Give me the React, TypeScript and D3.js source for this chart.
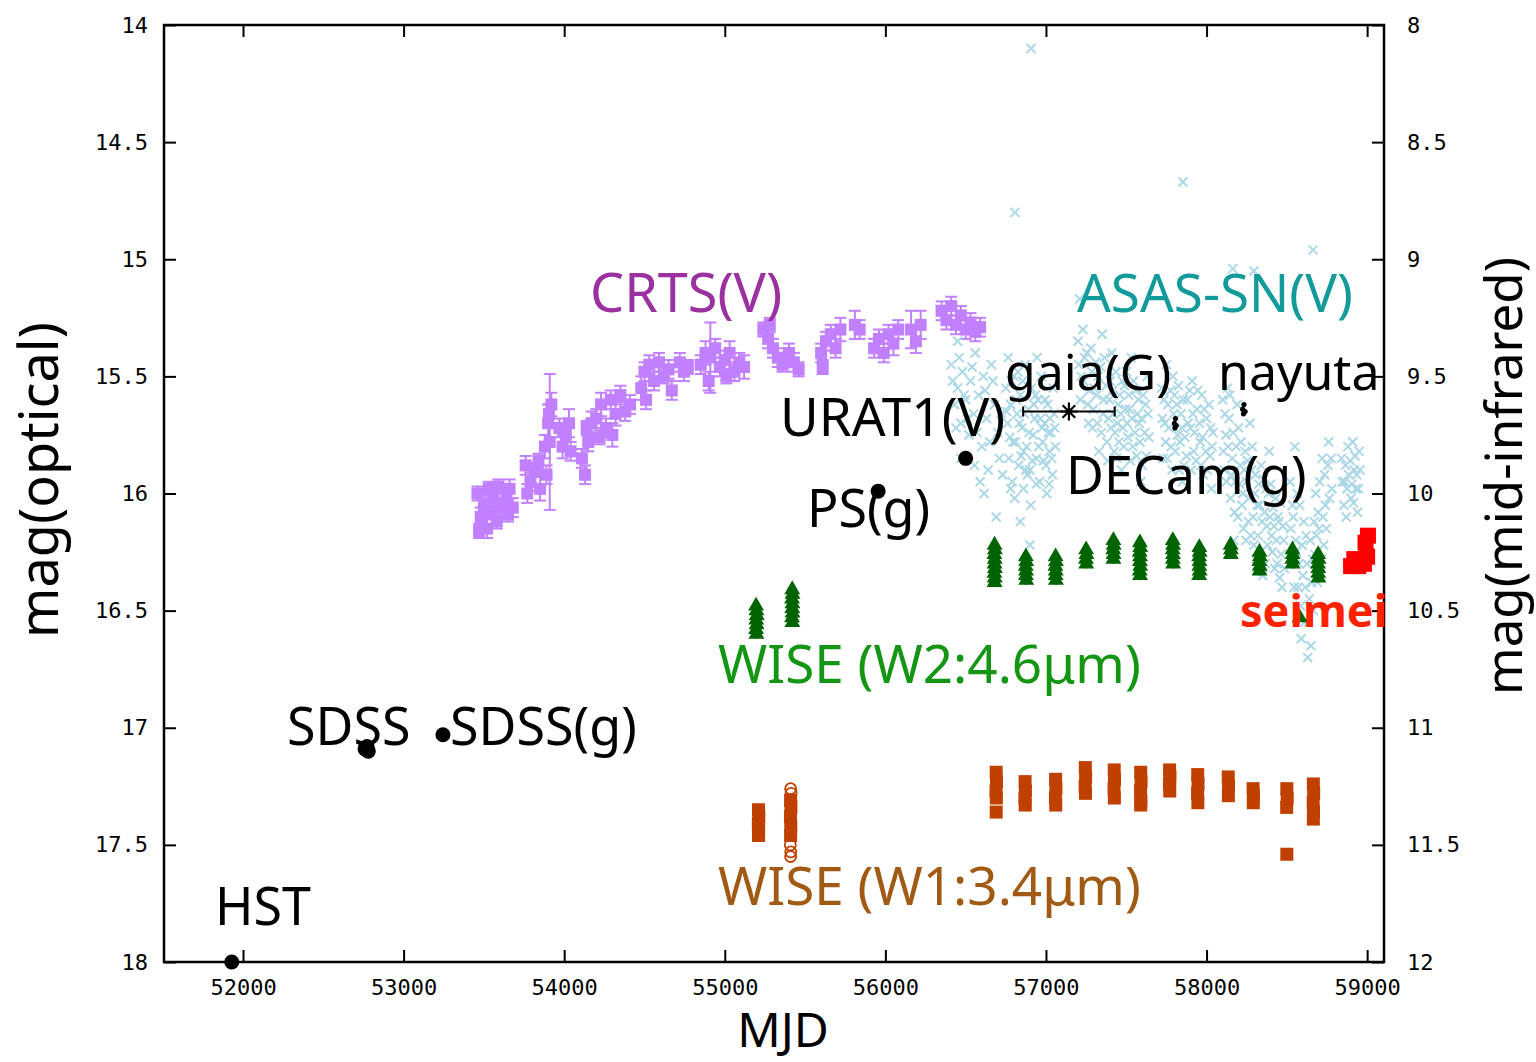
import React, { useRef, useEffect } from "react";
import * as d3 from "d3";

// axes
const xTicks = [52000, 53000, 54000, 55000, 56000, 57000, 58000, 59000];
const optTicks = [14, 14.5, 15, 15.5, 16, 16.5, 17, 17.5, 18];
const irTicks = [8, 8.5, 9, 9.5, 10, 10.5, 11, 11.5, 12];

// CRTS(V): [mjd, mag, err]
const crts: [number, number, number][] = [
  [53460, 16.0, 0.03], [53480, 16.1, 0.04], [53500, 16.05, 0.03], [53520, 16.15, 0.04],
  [53540, 16.08, 0.03], [53560, 16.02, 0.04], [53580, 16.12, 0.03], [53600, 16.06, 0.04],
  [53470, 16.16, 0.03], [53530, 15.98, 0.03], [53590, 15.97, 0.03],
  [53640, 16.02, 0.05], [53660, 15.98, 0.04], [53680, 16.06, 0.04], [53650, 16.09, 0.03],
  [53760, 15.88, 0.04], [53790, 15.95, 0.04], [53820, 15.9, 0.03], [53850, 15.98, 0.05],
  [53880, 15.8, 0.05], [53900, 15.7, 0.08], [53910, 15.78, 0.29], [53920, 15.62, 0.05],
  [53770, 16.0, 0.04], [53840, 15.86, 0.03], [53890, 15.92, 0.04], [53905, 15.66, 0.04],
  [53970, 15.72, 0.04], [53990, 15.8, 0.05], [54010, 15.75, 0.03], [54030, 15.7, 0.06], [54040, 15.82, 0.04],
  [54110, 15.85, 0.04], [54130, 15.92, 0.04], [54150, 15.78, 0.04], [54170, 15.7, 0.05],
  [54200, 15.68, 0.04], [54230, 15.62, 0.05], [54260, 15.72, 0.04], [54290, 15.6, 0.04],
  [54320, 15.66, 0.05], [54350, 15.58, 0.04], [54380, 15.65, 0.04], [54410, 15.62, 0.04],
  [54140, 15.72, 0.03], [54220, 15.76, 0.03], [54300, 15.75, 0.05],
  [54480, 15.55, 0.05], [54500, 15.48, 0.04], [54530, 15.45, 0.04], [54560, 15.52, 0.04],
  [54590, 15.44, 0.04], [54620, 15.5, 0.03], [54650, 15.47, 0.04], [54670, 15.56, 0.04], [54510, 15.6, 0.04],
  [54720, 15.44, 0.04], [54745, 15.48, 0.04], [54770, 15.46, 0.03],
  [54850, 15.45, 0.04], [54880, 15.4, 0.05], [54910, 15.42, 0.15], [54940, 15.38, 0.04],
  [54970, 15.46, 0.04], [55000, 15.43, 0.04], [55030, 15.4, 0.05], [55060, 15.48, 0.04],
  [55090, 15.44, 0.04], [55120, 15.46, 0.05], [54900, 15.52, 0.04], [55010, 15.5, 0.03],
  [55240, 15.3, 0.03], [55270, 15.34, 0.04], [55300, 15.38, 0.04], [55330, 15.42, 0.04],
  [55360, 15.45, 0.03], [55400, 15.4, 0.04], [55430, 15.44, 0.04], [55460, 15.47, 0.03], [55280, 15.28, 0.03],
  [55600, 15.4, 0.04], [55630, 15.35, 0.04], [55660, 15.32, 0.04], [55690, 15.38, 0.04],
  [55720, 15.3, 0.05], [55610, 15.46, 0.03],
  [55810, 15.28, 0.06], [55840, 15.3, 0.04],
  [55930, 15.38, 0.04], [55960, 15.34, 0.04], [55990, 15.4, 0.04], [56020, 15.32, 0.04],
  [56050, 15.36, 0.05], [56080, 15.3, 0.04],
  [56160, 15.3, 0.08], [56190, 15.35, 0.05], [56220, 15.28, 0.06],
  [56350, 15.22, 0.04], [56380, 15.26, 0.04], [56410, 15.2, 0.04], [56440, 15.28, 0.04],
  [56470, 15.24, 0.04], [56500, 15.3, 0.04], [56530, 15.27, 0.04], [56560, 15.31, 0.04], [56590, 15.29, 0.04],
];

// ASAS-SN(V): [mjd, mag]
const asassn: [number, number][] = [
  [56410, 15.45], [56430, 15.62], [56450, 15.55], [56470, 15.7], [56480, 15.48], [56500, 15.6],
  [56520, 15.75], [56530, 15.52], [56550, 15.66], [56560, 15.4], [56580, 15.58], [56600, 15.8],
  [56610, 15.5], [56630, 15.68], [56640, 15.9], [56660, 15.45], [56680, 15.62], [56700, 15.74],
  [56710, 15.85], [56450, 15.35], [56590, 15.95], [56690, 16.1],
  [56420, 15.52], [56440, 15.72], [56460, 15.42], [56490, 15.58], [56510, 15.68], [56540, 15.46],
  [56570, 15.74], [56620, 15.56], [56650, 15.78], [56670, 15.52], [56720, 15.66], [56730, 15.92],
  [56470, 15.85], [56555, 15.88], [56615, 16.0],
  [56750, 15.55], [56760, 15.7], [56770, 15.85], [56780, 15.62], [56790, 15.95], [56800, 15.5],
  [56810, 15.78], [56820, 15.66], [56830, 15.88], [56840, 15.58], [56850, 15.72], [56860, 15.98],
  [56870, 15.45], [56880, 15.8], [56890, 15.64], [56900, 15.9], [56910, 15.55], [56920, 15.75],
  [56930, 15.68], [56940, 15.85], [56950, 15.6], [56960, 15.95], [56970, 15.5], [56980, 15.78],
  [56990, 15.7], [57000, 15.88], [57010, 15.62], [57020, 15.82], [57030, 15.74], [57040, 15.92],
  [57050, 15.66], [57060, 15.8], [56765, 15.42], [56805, 16.02], [56855, 15.52], [56905, 16.05],
  [56945, 15.42], [57005, 16.0], [57045, 15.55], [56825, 15.48], [56885, 15.92], [56935, 15.58],
  [56975, 15.72], [57025, 15.68], [56795, 15.78], [56835, 15.7], [56840, 16.12], [56900, 16.22],
  [56755, 15.65], [56775, 15.76], [56785, 15.52], [56815, 15.6], [56845, 15.84], [56865, 15.66],
  [56875, 15.9], [56895, 15.74], [56915, 15.86], [56925, 15.62], [56955, 15.8], [56965, 15.68],
  [56985, 15.86], [56995, 15.6], [57015, 15.74], [57035, 15.85], [57055, 15.72], [56780, 15.98],
  [56860, 15.82], [56940, 15.96], [57020, 15.96],
  [57200, 15.35], [57220, 15.5], [57240, 15.42], [57260, 15.62], [57280, 15.38], [57300, 15.55],
  [57320, 15.7], [57340, 15.46], [57360, 15.6], [57380, 15.78], [57400, 15.52], [57420, 15.66],
  [57440, 15.85], [57460, 15.58], [57480, 15.72], [57500, 15.48], [57520, 15.64], [57540, 15.8],
  [57560, 15.56], [57580, 15.7], [57600, 15.88], [57620, 15.62], [57640, 15.76], [57230, 15.3],
  [57290, 15.72], [57350, 15.32], [57410, 15.4], [57470, 15.9], [57530, 15.42], [57590, 15.95],
  [57630, 15.5], [57310, 15.44], [57390, 15.68], [57450, 15.62], [57510, 15.76], [57570, 15.66],
  [57270, 15.56], [57330, 15.82], [57430, 15.74], [57490, 15.54], [57210, 15.17],
  [57205, 15.45], [57215, 15.6], [57235, 15.52], [57255, 15.4], [57265, 15.7], [57285, 15.48],
  [57295, 15.64], [57315, 15.58], [57325, 15.5], [57345, 15.74], [57355, 15.66], [57365, 15.42],
  [57375, 15.54], [57385, 15.86], [57395, 15.6], [57405, 15.72], [57415, 15.56], [57425, 15.82],
  [57435, 15.48], [57445, 15.7], [57455, 15.78], [57465, 15.66], [57475, 15.52], [57485, 15.8],
  [57495, 15.64], [57505, 15.7], [57515, 15.58], [57525, 15.86], [57535, 15.68], [57545, 15.52],
  [57555, 15.74], [57565, 15.84], [57575, 15.6], [57585, 15.78], [57595, 15.68], [57605, 15.58],
  [57615, 15.74], [57625, 15.84], [57635, 15.66],
  [57720, 15.55], [57740, 15.7], [57760, 15.62], [57780, 15.8], [57800, 15.58], [57820, 15.75],
  [57840, 15.66], [57860, 15.88], [57880, 15.6], [57900, 15.72], [57920, 15.82], [57940, 15.64],
  [57960, 15.78], [57980, 15.92], [58000, 15.68], [58020, 15.84], [58040, 15.74], [57730, 15.85],
  [57790, 15.5], [57850, 15.95], [57910, 15.52], [57970, 15.58], [58030, 15.98], [57750, 15.45], [57830, 15.9],
  [57725, 15.68], [57735, 15.6], [57745, 15.78], [57755, 15.85], [57765, 15.72], [57775, 15.56],
  [57785, 15.9], [57795, 15.66], [57805, 15.82], [57815, 15.62], [57825, 15.54], [57835, 15.78],
  [57845, 15.72], [57855, 15.6], [57865, 15.76], [57875, 15.84], [57885, 15.7], [57895, 15.56],
  [57905, 15.9], [57915, 15.66], [57925, 15.74], [57935, 15.86], [57945, 15.56], [57955, 15.7],
  [57965, 15.88], [57975, 15.76], [57985, 15.64], [57995, 15.82], [58005, 15.9], [58015, 15.62],
  [58025, 15.72], [58035, 15.8],
  [58100, 15.6], [58120, 15.75], [58140, 15.68], [58160, 15.85], [58180, 15.95], [58200, 15.72],
  [58220, 16.05], [58240, 15.82], [58260, 16.12], [58280, 15.9], [58300, 16.0], [58320, 16.18],
  [58340, 15.88], [58360, 16.08], [58380, 16.22], [58400, 15.96], [58420, 16.14], [58440, 16.3],
  [58460, 16.04], [58480, 16.2], [58110, 15.9], [58150, 16.02], [58190, 15.62], [58230, 16.15],
  [58270, 15.7], [58310, 16.28], [58350, 16.35], [58390, 15.82], [58430, 16.02], [58470, 16.4],
  [58130, 15.55], [58210, 15.88], [58290, 16.1], [58370, 15.98], [58450, 16.12], [58170, 16.2],
  [58250, 15.95], [58330, 16.05], [58410, 16.25],
  [58105, 15.82], [58115, 15.66], [58125, 15.95], [58135, 15.8], [58145, 15.58], [58155, 15.92],
  [58165, 15.74], [58175, 16.08], [58185, 15.8], [58195, 16.1], [58205, 15.96], [58215, 15.78],
  [58225, 16.0], [58235, 15.9], [58245, 16.2], [58255, 15.86], [58265, 16.02], [58275, 16.18],
  [58285, 15.8], [58295, 16.22], [58305, 15.92], [58315, 16.05], [58325, 15.96], [58335, 16.25],
  [58345, 16.12], [58355, 15.94], [58365, 16.3], [58375, 16.14], [58385, 16.0], [58395, 16.1],
  [58405, 16.18], [58415, 16.06], [58425, 16.32], [58435, 16.2], [58445, 16.1], [58455, 16.36],
  [58465, 16.26], [58475, 16.14], [58485, 16.32],
  [58520, 15.95], [58540, 16.1], [58560, 16.25], [58580, 16.05], [58600, 16.35], [58620, 16.18],
  [58640, 16.45], [58660, 16.28], [58680, 16.0], [58700, 16.15], [58720, 15.85], [58740, 16.05],
  [58760, 15.78], [58780, 15.98], [58530, 16.3], [58570, 16.4], [58610, 16.55], [58650, 16.65],
  [58690, 16.38], [58730, 16.22], [58550, 15.8], [58590, 16.62], [58630, 16.7], [58670, 16.12],
  [58525, 16.15], [58535, 16.05], [58545, 16.4], [58555, 16.2], [58565, 16.0], [58575, 16.3],
  [58585, 16.48], [58595, 16.22], [58605, 16.12], [58615, 16.4], [58625, 16.3], [58635, 16.55],
  [58645, 16.2], [58655, 16.38], [58665, 16.5], [58675, 16.26], [58685, 16.18], [58695, 16.08],
  [58705, 15.95], [58715, 16.28], [58725, 16.1], [58735, 15.92], [58745, 16.15], [58755, 15.88],
  [58765, 16.02], [58775, 15.85],
  [58840, 15.85], [58860, 15.95], [58880, 15.8], [58900, 16.02], [58920, 15.9], [58940, 16.08],
  [58950, 15.82], [58870, 16.1], [58910, 15.78], [58930, 15.98],
  [58845, 15.95], [58855, 16.05], [58865, 15.88], [58875, 15.98], [58885, 15.92], [58895, 15.86],
  [58905, 15.96], [58915, 16.04], [58925, 15.84], [58935, 15.92], [58945, 15.98], [58955, 15.9],
  [56907, 14.1], [56807, 14.8], [57853, 14.67], [58663, 14.96], [58164, 15.04], [58295, 15.05],
];

// WISE W2 (4.6um): [mjd, mag, err]
const wiseW2: [number, number, number][] = [
  [55195, 10.48, 0.02], [55197, 10.5, 0.02], [55199, 10.52, 0.02], [55196, 10.54, 0.02],
  [55198, 10.56, 0.02], [55195, 10.58, 0.02], [55197, 10.6, 0.02],
  [55420, 10.41, 0.02], [55422, 10.43, 0.02], [55419, 10.45, 0.02], [55421, 10.47, 0.02],
  [55420, 10.49, 0.02], [55422, 10.51, 0.02], [55419, 10.53, 0.02], [55421, 10.55, 0.02],
  [56680, 10.22, 0.02], [56682, 10.24, 0.02], [56679, 10.26, 0.02], [56681, 10.28, 0.02], [56680, 10.3, 0.02],
  [56682, 10.32, 0.02], [56679, 10.34, 0.02], [56681, 10.36, 0.02], [56680, 10.38, 0.02],
  [56875, 10.27, 0.02], [56877, 10.29, 0.02], [56874, 10.31, 0.02], [56876, 10.33, 0.02],
  [56875, 10.35, 0.02], [56877, 10.37, 0.02],
  [57060, 10.27, 0.02], [57062, 10.29, 0.02], [57059, 10.31, 0.02], [57061, 10.33, 0.02],
  [57060, 10.35, 0.02], [57062, 10.37, 0.02],
  [57250, 10.24, 0.02], [57252, 10.26, 0.02], [57249, 10.28, 0.02], [57251, 10.3, 0.02],
  [57420, 10.2, 0.02], [57422, 10.22, 0.02], [57419, 10.24, 0.02], [57421, 10.26, 0.02], [57420, 10.28, 0.02],
  [57585, 10.21, 0.02], [57587, 10.23, 0.02], [57584, 10.25, 0.02], [57586, 10.27, 0.02],
  [57585, 10.29, 0.02], [57587, 10.31, 0.02], [57584, 10.33, 0.02], [57586, 10.35, 0.02],
  [57790, 10.2, 0.02], [57792, 10.22, 0.02], [57789, 10.24, 0.02], [57791, 10.26, 0.02],
  [57790, 10.28, 0.02], [57792, 10.3, 0.02],
  [57955, 10.23, 0.02], [57957, 10.25, 0.02], [57954, 10.27, 0.02], [57956, 10.29, 0.02],
  [57955, 10.31, 0.02], [57957, 10.33, 0.02], [57954, 10.35, 0.02],
  [58150, 10.22, 0.02], [58152, 10.24, 0.02], [58151, 10.26, 0.02],
  [58330, 10.25, 0.02], [58332, 10.27, 0.02], [58329, 10.29, 0.02], [58331, 10.31, 0.02], [58330, 10.33, 0.02],
  [58535, 10.24, 0.02], [58537, 10.26, 0.02], [58534, 10.28, 0.02], [58536, 10.3, 0.02],
  [58695, 10.26, 0.02], [58697, 10.28, 0.02], [58694, 10.3, 0.02], [58696, 10.32, 0.02],
  [58695, 10.34, 0.02], [58697, 10.36, 0.02],
  [58580, 10.53, 0.01],
];

// WISE W1 (3.4um): [mjd, mag, err]
const wiseW1: [number, number, number][] = [
  [55210, 11.35, 0.02], [55212, 11.38, 0.02], [55209, 11.41, 0.02], [55211, 11.44, 0.02], [55210, 11.46, 0.02],
  [55410, 11.31, 0.02], [55412, 11.34, 0.02], [55409, 11.38, 0.02], [55411, 11.42, 0.02], [55410, 11.46, 0.02],
  [56690, 11.19, 0.02], [56692, 11.23, 0.02], [56689, 11.27, 0.02], [56691, 11.3, 0.02], [56690, 11.36, 0.01],
  [56870, 11.23, 0.02], [56872, 11.27, 0.02], [56869, 11.3, 0.02], [56871, 11.33, 0.02],
  [57060, 11.22, 0.02], [57062, 11.26, 0.02], [57059, 11.3, 0.02], [57061, 11.33, 0.02],
  [57245, 11.17, 0.02], [57247, 11.21, 0.02], [57244, 11.25, 0.02], [57246, 11.28, 0.02],
  [57425, 11.18, 0.02], [57427, 11.22, 0.02], [57424, 11.26, 0.02], [57426, 11.3, 0.02],
  [57590, 11.19, 0.02], [57592, 11.23, 0.02], [57589, 11.27, 0.02], [57591, 11.31, 0.02], [57590, 11.33, 0.02],
  [57770, 11.18, 0.02], [57772, 11.21, 0.02], [57769, 11.24, 0.02], [57771, 11.27, 0.02],
  [57945, 11.2, 0.02], [57947, 11.24, 0.02], [57944, 11.28, 0.02], [57946, 11.32, 0.02],
  [58135, 11.21, 0.02], [58137, 11.25, 0.02], [58136, 11.29, 0.02],
  [58290, 11.26, 0.02], [58292, 11.29, 0.02], [58291, 11.32, 0.02],
  [58500, 11.26, 0.02], [58502, 11.3, 0.02], [58499, 11.34, 0.02], [58500, 11.54, 0.01],
  [58665, 11.24, 0.02], [58667, 11.28, 0.02], [58664, 11.32, 0.02], [58666, 11.36, 0.02], [58665, 11.39, 0.02],
];
const wiseW1Open: [number, number][] = [
  [55410, 11.26], [55413, 11.28], [55408, 11.5], [55411, 11.53], [55410, 11.55],
];

// other photometry (optical mag)
const blackPoints: [number, number][] = [
  [51930, 18.0], [52760, 17.09], [52780, 17.1], [52772, 17.08], [53245, 17.03], [55955, 15.99], [56500, 15.85],
];
const gaia: [number, number, number][] = [[57143, 15.65, 285]];
const decam: [number, number][] = [[57800, 15.7], [57806, 15.68], [57811, 15.71], [57803, 15.72]];
const nayuta: [number, number][] = [[58225, 15.64], [58233, 15.62], [58240, 15.65], [58230, 15.66]];
const seimei: [number, number][] = [
  [58900, 16.31], [58920, 16.28], [58945, 16.31], [58980, 16.3], [59000, 16.27], [58990, 16.21], [59005, 16.18],
];

export default function App() {
  const ref = useRef<SVGSVGElement>(null);

  useEffect(() => {
    const W = 1536;
    const H = 1062;
    const m = { left: 164, right: 1384, top: 25, bottom: 962 };
    const svg = d3.select(ref.current);
    svg.selectAll("*").remove();
    svg.attr("width", W).attr("height", H);

    const x = d3.scaleLinear().domain([51508, 59105]).range([m.left, m.right]);
    const yOpt = d3.scaleLinear().domain([14, 18]).range([m.top, m.bottom]);
    const yIr = d3.scaleLinear().domain([8, 12]).range([m.top, m.bottom]);

    const clip = svg.append("defs").append("clipPath").attr("id", "plotclip");
    clip.append("rect").attr("x", m.left).attr("y", m.top).attr("width", m.right - m.left).attr("height", m.bottom - m.top);

    const g = svg.append("g").attr("clip-path", "url(#plotclip)");

    // CRTS
    const crtsColor = "#c080ff";
    crts.forEach(([t, v, e]) => {
      const cx = x(t);
      g.append("line").attr("x1", cx).attr("x2", cx).attr("y1", yOpt(v - e)).attr("y2", yOpt(v + e))
        .attr("stroke", crtsColor).attr("stroke-width", 2);
      [v - e, v + e].forEach((vv) => {
        g.append("line").attr("x1", cx - 6).attr("x2", cx + 6).attr("y1", yOpt(vv)).attr("y2", yOpt(vv))
          .attr("stroke", crtsColor).attr("stroke-width", 2);
      });
      g.append("rect").attr("x", cx - 6).attr("y", yOpt(v) - 6).attr("width", 12).attr("height", 12).attr("fill", crtsColor);
    });

    // ASAS-SN
    const asColor = "#add8e6";
    asassn.forEach(([t, v]) => {
      const cx = x(t);
      const cy = yOpt(v);
      const s = 4.5;
      g.append("path").attr("d", `M${cx - s},${cy - s}L${cx + s},${cy + s}M${cx - s},${cy + s}L${cx + s},${cy - s}`)
        .attr("stroke", asColor).attr("stroke-width", 2).attr("fill", "none");
    });

    // WISE W2
    const w2Color = "#006400";
    const tri = d3.symbol().type(d3.symbolTriangle).size(110);
    wiseW2.forEach(([t, v, e]) => {
      const cx = x(t);
      g.append("line").attr("x1", cx).attr("x2", cx).attr("y1", yIr(v - e)).attr("y2", yIr(v + e))
        .attr("stroke", w2Color).attr("stroke-width", 2);
      g.append("path").attr("d", tri).attr("transform", `translate(${cx},${yIr(v)})`).attr("fill", w2Color);
    });

    // WISE W1
    const w1Color = "#c04000";
    wiseW1.forEach(([t, v, e]) => {
      const cx = x(t);
      g.append("line").attr("x1", cx).attr("x2", cx).attr("y1", yIr(v - e)).attr("y2", yIr(v + e))
        .attr("stroke", w1Color).attr("stroke-width", 2);
      g.append("rect").attr("x", cx - 6.5).attr("y", yIr(v) - 6.5).attr("width", 13).attr("height", 13).attr("fill", w1Color);
    });
    wiseW1Open.forEach(([t, v]) => {
      g.append("circle").attr("cx", x(t)).attr("cy", yIr(v)).attr("r", 5.5)
        .attr("fill", "none").attr("stroke", w1Color).attr("stroke-width", 1.8);
    });

    // seimei
    seimei.forEach(([t, v]) => {
      g.append("rect").attr("x", x(t) - 8).attr("y", yOpt(v) - 8).attr("width", 16).attr("height", 16).attr("fill", "#ff0000");
    });

    // black points (drawn unclipped, on top)
    const top = svg.append("g");
    blackPoints.forEach(([t, v]) => {
      top.append("circle").attr("cx", x(t)).attr("cy", yOpt(v)).attr("r", 7.5).attr("fill", "#000");
    });
    [...decam, ...nayuta].forEach(([t, v]) => {
      top.append("circle").attr("cx", x(t)).attr("cy", yOpt(v)).attr("r", 2.6).attr("fill", "#000");
    });
    gaia.forEach(([t, v, e]) => {
      const cx = x(t);
      const cy = yOpt(v);
      const x0 = x(t - e);
      const x1 = x(t + e);
      top.append("path").attr("d", `M${x0},${cy}L${x1},${cy}M${x0},${cy - 5}L${x0},${cy + 5}M${x1},${cy - 5}L${x1},${cy + 5}`)
        .attr("stroke", "#000").attr("stroke-width", 2).attr("fill", "none");
      const s = 9;
      top.append("path")
        .attr("d", `M${cx - s},${cy}L${cx + s},${cy}M${cx},${cy - s}L${cx},${cy + s}M${cx - s * 0.7},${cy - s * 0.7}L${cx + s * 0.7},${cy + s * 0.7}M${cx - s * 0.7},${cy + s * 0.7}L${cx + s * 0.7},${cy - s * 0.7}`)
        .attr("stroke", "#000").attr("stroke-width", 2.2).attr("fill", "none");
    });

    // axes
    const tickFont = "'DejaVu Sans Mono', monospace";
    const styleAxis = (sel: any) => {
      sel.select(".domain").remove();
      sel.selectAll("line").attr("stroke", "#000").attr("stroke-width", 2);
      sel.selectAll("text").attr("font-family", tickFont).attr("font-size", 22).attr("fill", "#000");
    };
    svg.append("g").attr("transform", `translate(0,${m.bottom})`)
      .call(d3.axisBottom(x).tickValues(xTicks).tickSize(-12).tickPadding(17).tickFormat((d: any) => String(d)))
      .call(styleAxis);
    svg.append("g").attr("transform", `translate(0,${m.top})`)
      .call(d3.axisTop(x).tickValues(xTicks).tickSize(-12).tickFormat(() => ""))
      .call(styleAxis);
    svg.append("g").attr("transform", `translate(${m.left},0)`)
      .call(d3.axisLeft(yOpt).tickValues(optTicks).tickSize(-12).tickPadding(16).tickFormat((d: any) => String(d)))
      .call(styleAxis);
    svg.append("g").attr("transform", `translate(${m.right},0)`)
      .call(d3.axisRight(yIr).tickValues(irTicks).tickSize(-12).tickPadding(23).tickFormat((d: any) => String(d)))
      .call(styleAxis);

    svg.append("rect").attr("x", m.left).attr("y", m.top).attr("width", m.right - m.left).attr("height", m.bottom - m.top)
      .attr("fill", "none").attr("stroke", "#000").attr("stroke-width", 2.5);

    // annotations
    const font = "'Noto Sans', 'Open Sans', sans-serif";
    const label = (txt: string, lx: number, ly: number, color: string, weight = 400, size = 52) => {
      svg.append("text").attr("x", lx).attr("y", ly).attr("font-family", font).attr("font-size", size)
        .attr("font-weight", weight).attr("fill", color).text(txt);
    };
    label("CRTS(V)", 590, 312, "#9b30a0", 400, 54);
    label("ASAS-SN(V)", 1077, 312, "#139b9b", 400, 53);
    label("gaia(G)", 1005, 390, "#000", 400, 50);
    label("nayuta", 1218, 390, "#000", 400, 50);
    label("URAT1(V)", 780, 436, "#000", 400, 53);
    label("DECam(g)", 1066, 494, "#000", 400, 52);
    label("PS(g)", 807, 527, "#000", 400, 52);
    label("WISE (W2:4.6\u03bcm)", 718, 683, "#149614", 400, 53);
    label("SDSS", 287, 745, "#000", 400, 52);
    label("SDSS(g)", 450, 745, "#000", 400, 52);
    label("WISE (W1:3.4\u03bcm)", 718, 905, "#a05a14", 400, 53);
    label("HST", 215, 925, "#000", 400, 52);
    label("seimei", 1240, 627, "#ff2200", 700, 45);

    svg.append("text").attr("x", 783).attr("y", 1047).attr("text-anchor", "middle")
      .attr("font-family", font).attr("font-size", 48).text("MJD");
    svg.append("text").attr("transform", "translate(58,480) rotate(-90)").attr("text-anchor", "middle")
      .attr("font-family", font).attr("font-size", 54).text("mag(optical)");
    svg.append("text").attr("transform", "translate(1522,476) rotate(-90)").attr("text-anchor", "middle")
      .attr("font-family", font).attr("font-size", 51).text("mag(mid-infrared)");

    return () => {
      svg.selectAll("*").remove();
    };
  }, []);

  return (
    <svg
      ref={ref}
      style={{ position: "absolute", left: 0, top: 0, background: "#fff", display: "block" }}
    />
  );
}
